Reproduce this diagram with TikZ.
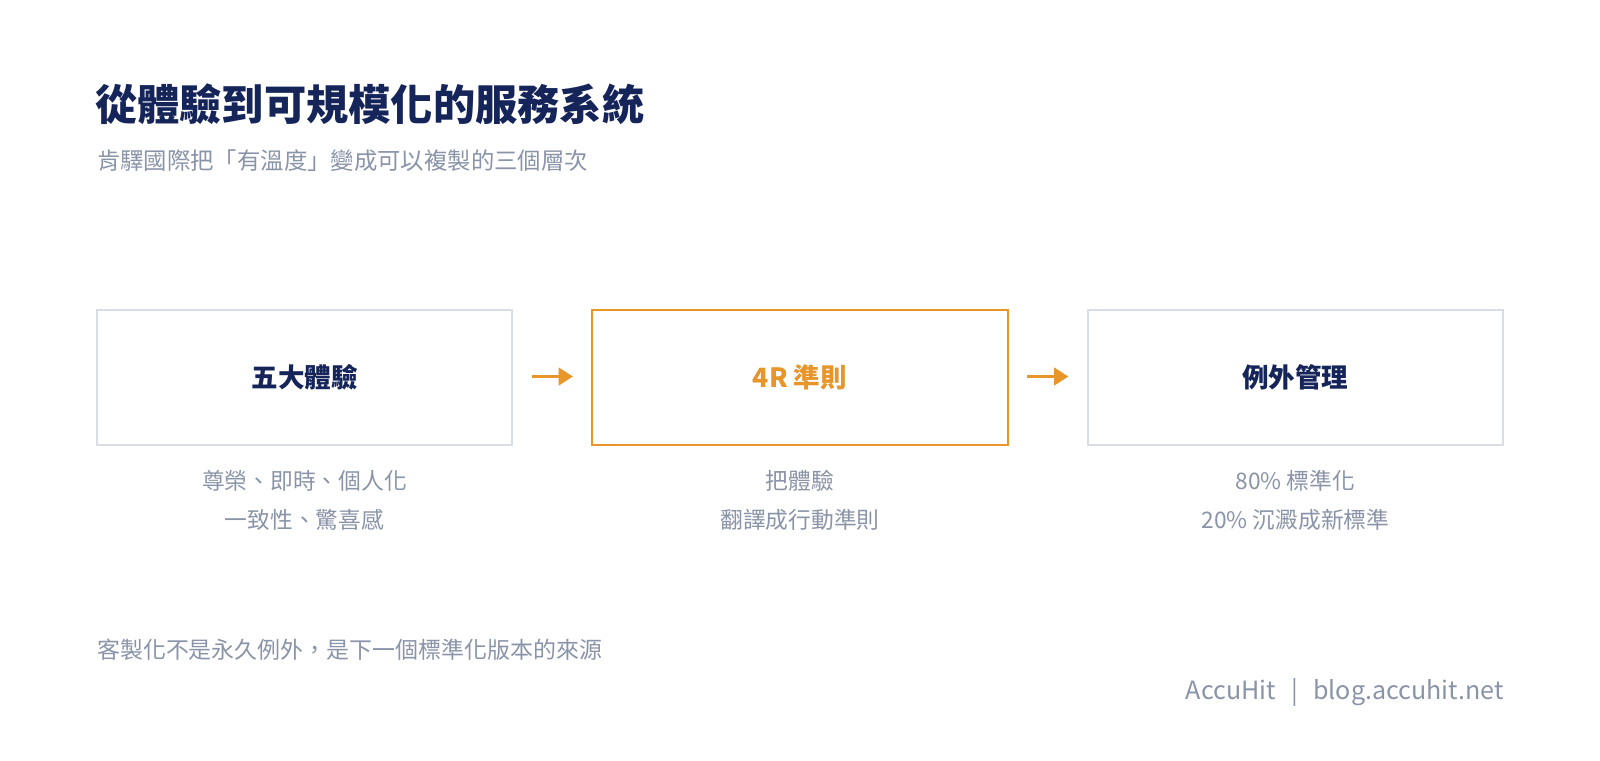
\documentclass[tikz,border=0pt]{standalone}
\usepackage{fontspec}
\setmainfont{Noto Sans CJK TC}
\usetikzlibrary{arrows.meta}
\definecolor{navy}{HTML}{15255A}
\definecolor{greytext}{HTML}{8A94A8}
\definecolor{boxline}{HTML}{D8DDE6}
\definecolor{accent}{HTML}{E8952A}
\begin{document}
\begin{tikzpicture}[x=1pt,y=-1pt,
  stagebox/.style={draw=boxline,line width=2pt,fill=white,minimum width=407pt,minimum height=132pt,inner sep=0pt,
    font=\fontsize{26}{30}\selectfont\bfseries,text=navy},
  hlbox/.style={stagebox,draw=accent,text=accent},
  sublabel/.style={align=center,text=greytext,font=\fontsize{22.3}{38}\selectfont,inner sep=0pt},
  flowarrow/.style={draw=accent,line width=3pt,-{Triangle[length=14pt,width=17pt]}}]
\useasboundingbox[fill=white] (0,0) rectangle (1568,744.8);
\node[anchor=west,inner sep=0pt,text=navy,font=\fontsize{41.4}{42}\selectfont\bfseries] (title) at (93,102) {從體驗到可規模化的服務系統};
\node[anchor=west,inner sep=0pt,text=greytext,font=\fontsize{22.9}{26}\selectfont] (subtitle) at (95,157) {肯驛國際把「有溫度」變成可以複製的三個層次};
\node[stagebox] (b1) at (298.5,370) {五大體驗};
\node[hlbox] (b2) at (784,370) {4R 準則};
\node[stagebox] (b3) at (1269.5,370) {例外管理};
\draw[flowarrow] ([xshift=18pt,yshift=1pt]b1.east) -- ([xshift=-18pt,yshift=1pt]b2.west);
\draw[flowarrow] ([xshift=18pt,yshift=1pt]b2.east) -- ([xshift=-18pt,yshift=1pt]b3.west);
\node[sublabel] (s1) at (298.5,490) {尊榮、即時、個人化\\一致性、驚喜感};
\node[sublabel] (s2) at (784,490) {把體驗\\翻譯成行動準則};
\node[sublabel] (s3) at (1269.5,490) {80\% 標準化\\20\% 沉澱成新標準};
\node[anchor=west,inner sep=0pt,text=greytext,font=\fontsize{22.5}{26}\selectfont] (note) at (95,637) {客製化不是永久例外，是下一個標準化版本的來源};
\node[anchor=east,inner sep=0pt,text=greytext,font=\fontsize{24.6}{28}\selectfont] (footer) at (1474,679) {AccuHit\hspace{15pt}|\hspace{15pt}blog.accuhit.net};
\end{tikzpicture}
\end{document}
